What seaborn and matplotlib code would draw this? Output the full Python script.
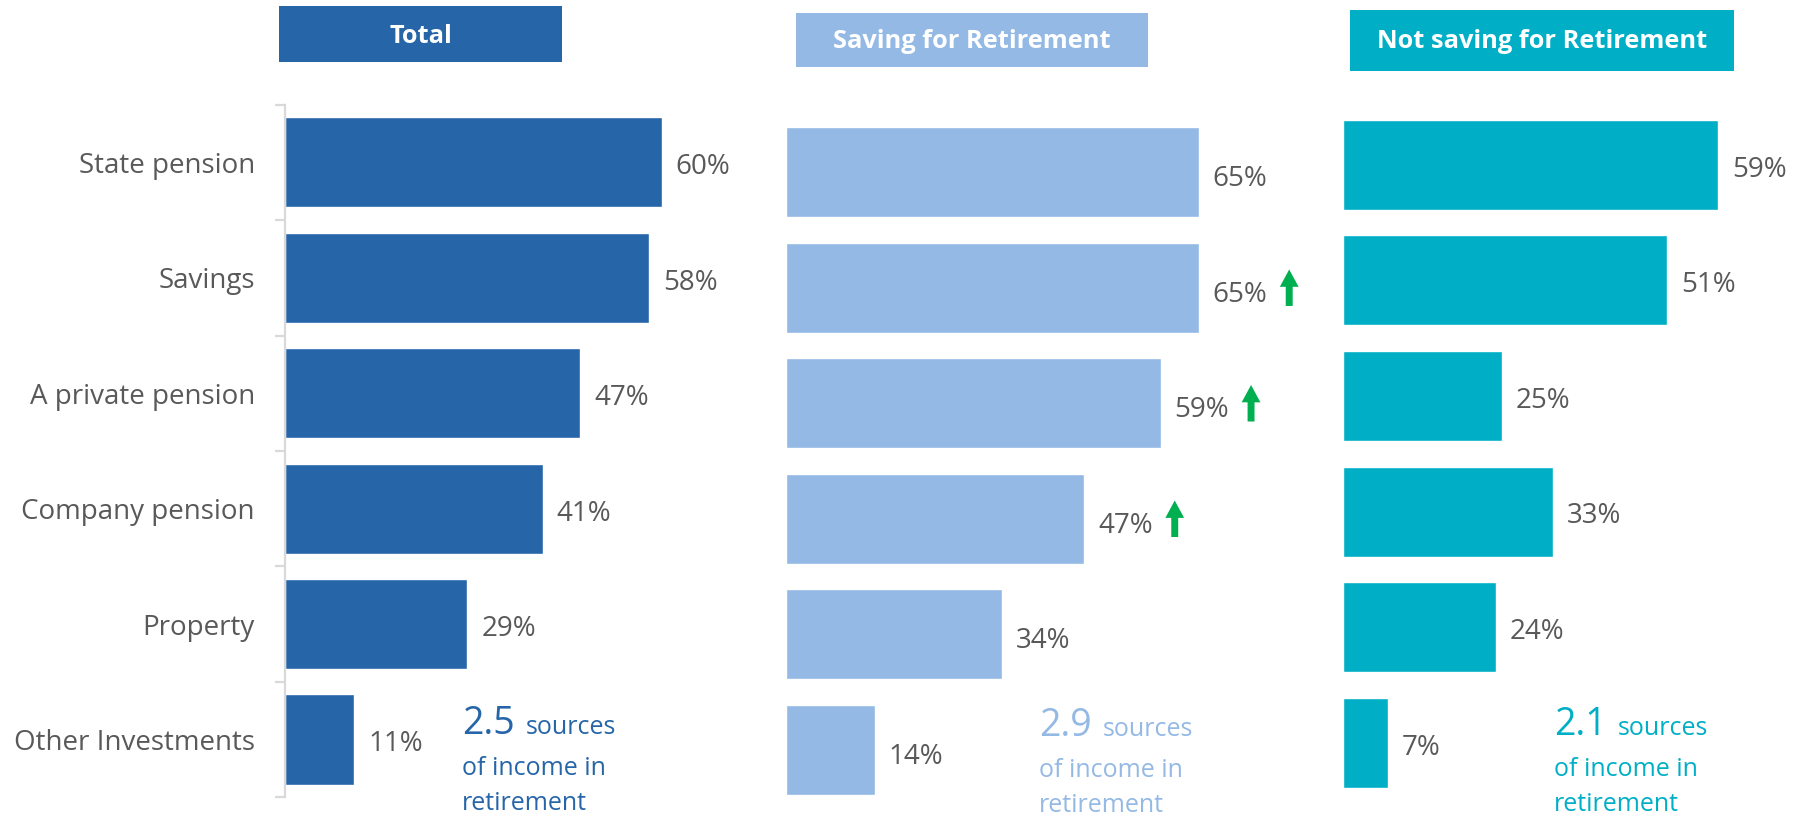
import matplotlib
matplotlib.use("Agg")
import matplotlib.pyplot as plt
from matplotlib.patches import Rectangle
import seaborn as sns
import pandas as pd

# ---------------- data ----------------
categories = ["State pension", "Savings", "A private pension",
              "Company pension", "Property", "Other Investments"]
total = [60, 58, 47, 41, 29, 11]
saving = [65, 65, 59, 47, 34, 14]
not_saving = [59, 51, 25, 33, 24, 7]
saving_up = [False, True, True, True, False, False]   # significant increase markers
panel_titles = ["Total", "Saving for Retirement", "Not saving for Retirement"]
avg_sources = ["2.5", "2.9", "2.1"]

# ---------------- style ----------------
sns.set_theme(style="white")
plt.rcParams["font.family"] = ["Open Sans", "DejaVu Sans"]

C_TOTAL = "#2665A8"
C_SAVE = "#94B9E5"
C_NOT = "#00AFC6"
C_TEXT = "#595959"
C_AXIS = "#D9D9D9"
C_UP = "#00B050"

W, H = 1806, 815
fig = plt.figure(figsize=(W / 100, H / 100), dpi=100)
fig.patch.set_facecolor("white")


def px_axes(left, top, xmax, scale, bottom_px):
    """axes placed by pixel coords (top-down)"""
    width = xmax * scale
    return fig.add_axes([left / W, (H - bottom_px) / H, width / W, (bottom_px - top) / H])


panels = [
    dict(vals=total, color=C_TOTAL, left=285.5, top=104.7, bottom=797.2, xmax=75, scale=6.27, dy=-3.5),
    dict(vals=saving, color=C_SAVE, left=785.5, top=114.4, bottom=807.6, xmax=80, scale=6.36, dy=-5.0),
    dict(vals=not_saving, color=C_NOT, left=1343.0, top=107.0, bottom=800.6, xmax=68, scale=6.36, dy=-3.5),
]

axes = []
for i, p in enumerate(panels):
    ax = px_axes(p["left"], p["top"], p["xmax"], p["scale"], p["bottom"])
    df = pd.DataFrame({"category": categories, "value": p["vals"]})
    sns.barplot(data=df, x="value", y="category", ax=ax, color=p["color"],
                saturation=1, width=0.78, orient="h")
    ax.set_xlim(0, p["xmax"])
    ax.set_ylim(len(categories) - 0.5, -0.5)
    ax.set_xlabel("")
    ax.set_ylabel("")
    ax.set_facecolor("none")
    ax.set_xticks([])
    for s in ["top", "right", "bottom"]:
        ax.spines[s].set_visible(False)
    # value labels
    for k, v in enumerate(p["vals"]):
        ax.annotate(f"{v:.0f}%", xy=(v, k), xytext=(10, p["dy"]), textcoords="offset points",
                    ha="left", va="center", fontsize=20, color=C_TEXT)
    if i == 0:
        ax.spines["left"].set_color(C_AXIS)
        ax.spines["left"].set_linewidth(1.6)
        ax.set_yticks(range(len(categories)))
        ax.set_yticklabels(categories)
        ax.tick_params(axis="y", which="major", length=0, pad=22, labelsize=20,
                       labelcolor=C_TEXT)
        ax.set_yticks([k - 0.5 for k in range(len(categories) + 1)], minor=True)
        ax.tick_params(axis="y", which="minor", length=7.5, width=1.6, color=C_AXIS,
                       direction="out", left=True)
    else:
        ax.spines["left"].set_visible(False)
        ax.set_yticks([])
    axes.append(ax)

# significant-increase arrows on the "Saving" panel
ax2 = axes[1]
for k, (v, up) in enumerate(zip(saving, saving_up)):
    if up:
        ax2.annotate("", xy=(v + 14.2, k - 0.158), xytext=(v + 14.2, k + 0.158),
                     arrowprops=dict(arrowstyle="simple,head_length=1.25,head_width=1.35,tail_width=0.5",
                                     color=C_UP, shrinkA=0, shrinkB=0, mutation_scale=10, lw=0))

# headers
headers = [
    (279, 6, 562, 62, C_TOTAL, 43),
    (796, 13, 1148, 67, C_SAVE, 48),
    (1350, 10, 1734, 71, C_NOT, 48),
]
for (x0, y0, x1, y1, col, base), title in zip(headers, panel_titles):
    fig.add_artist(Rectangle((x0 / W, (H - y1) / H), (x1 - x0) / W, (y1 - y0) / H,
                             transform=fig.transFigure, facecolor=col, edgecolor="none"))
    fig.text((x0 + x1) / 2 / W, (H - base) / H, title, ha="center", va="baseline",
             color="white", fontsize=18.3, fontweight="bold")

# average-sources annotations
notes = [
    (462, 526, 734, C_TOTAL),
    (1039, 1103, 736, C_SAVE),
    (1554, 1618, 735, C_NOT),
]
for (xn, xs, base, col), num in zip(notes, avg_sources):
    fig.text(xn / W, (H - base) / H, num, ha="left", va="baseline", color=col, fontsize=27)
    fig.text(xs / W, (H - base) / H, "sources", ha="left", va="baseline", color=col, fontsize=18)
    fig.text(xn / W, (H - base - 41) / H, "of income in", ha="left", va="baseline", color=col, fontsize=18)
    fig.text(xn / W, (H - base - 76) / H, "retirement", ha="left", va="baseline", color=col, fontsize=18)

fig.savefig("out.png", dpi=100, facecolor="white")
